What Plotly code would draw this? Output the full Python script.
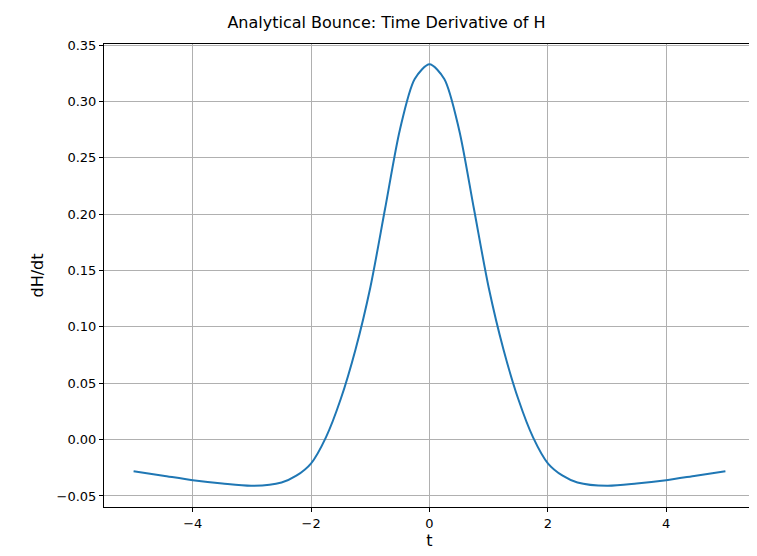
import plotly.graph_objects as go

# values
t_vals = [-5, -4.5, -4, -3.5, -3, -2.5, -2.25, -2, -1.75, -1.5, -1.25, -1, -0.75, -0.5, -0.25,
          0, 0.25, 0.5, 0.75, 1, 1.25, 1.5, 1.75, 2, 2.25, 2.5, 3, 3.5, 4, 4.5, 5]
dhdt_vals = [-0.028, -0.032, -0.036, -0.039, -0.041, -0.038, -0.032, -0.021, 0.002, 0.036, 0.080,
             0.135, 0.205, 0.275, 0.320, 0.333, 0.320, 0.275, 0.205, 0.135, 0.080, 0.036,
             0.002, -0.021, -0.032, -0.038, -0.041, -0.039, -0.036, -0.032, -0.028]
x_ticks = [-4, -2, 0, 2, 4]
x_tick_text = ['\u22124', '\u22122', '0', '2', '4']
y_ticks = [-0.05, 0, 0.05, 0.1, 0.15, 0.2, 0.25, 0.3, 0.35]
y_tick_text = ['\u22120.05', '0.00', '0.05', '0.10', '0.15', '0.20', '0.25', '0.30', '0.35']

fig = go.Figure()
fig.add_trace(go.Scatter(x=t_vals, y=dhdt_vals, mode='lines',
                         line=dict(color='#1f77b4', width=2, shape='spline', smoothing=0.8)))

axis_style = dict(showline=True, linecolor='black', linewidth=1, mirror=True,
                  showgrid=True, gridcolor='#b0b0b0', gridwidth=1, zeroline=False,
                  ticks='outside', ticklen=4, tickcolor='black', automargin=False)
fig.update_layout(
    width=757, height=556, plot_bgcolor='white', paper_bgcolor='white',
    margin=dict(l=96, r=10, t=36, b=57), showlegend=False,
    font=dict(family='DejaVu Sans', size=13, color='black'),
    title=dict(text='Analytical Bounce: Time Derivative of H', x=0.5, xanchor='center',
               y=0.985, yanchor='top', font=dict(size=16)),
    xaxis=dict(range=[-5.5, 5.5], tickvals=x_ticks, ticktext=x_tick_text,
               title=dict(text='t', standoff=4), **axis_style),
    yaxis=dict(range=[-0.0598, 0.351], tickvals=y_ticks, ticktext=y_tick_text,
               title=dict(text='dH/dt', standoff=8), **axis_style),
)
fig.write_html("out.html")
